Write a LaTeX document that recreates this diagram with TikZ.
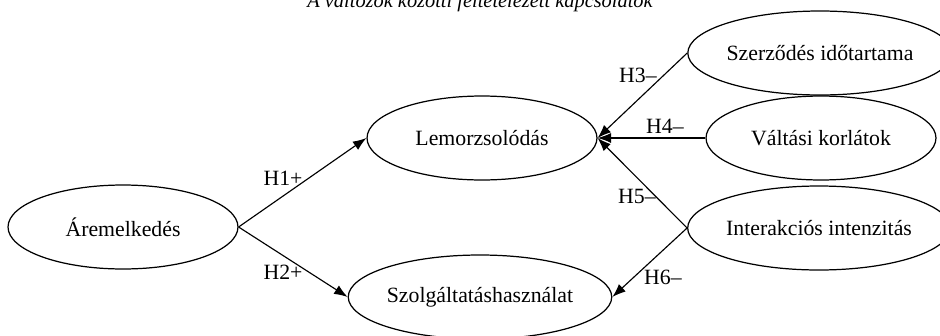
\documentclass[tikz,border=0pt]{standalone}
\usepackage{fontspec}
\setmainfont{Liberation Serif}
\usetikzlibrary{shapes.geometric,arrows.meta}

\tikzset{
  construct/.style={ellipse, draw, line width=0.7pt, minimum width=4.6cm,
    minimum height=1.68cm, inner sep=0pt, font=\fontsize{12.4}{14}\selectfont},
  hypo/.style={-{Latex[length=0.27cm,width=0.2cm]}, line width=0.65pt},
  hlabel/.style={font=\fontsize{12.4}{14}\selectfont, inner sep=0pt}
}

\begin{document}
\begin{tikzpicture}[x=0.02cm, y=-0.02cm]
  \useasboundingbox (0,0) rectangle (940,335);

  % Title (cut at the top)
  \node[anchor=base, inner sep=0pt, font=\itshape\fontsize{11.6}{14}\selectfont] (title) at (480,7)
    {A változók közötti feltételezett kapcsolatok};

  % Constructs
  \node[construct] (are) at (123,227) {Áremelkedés};
  \node[construct] (lem) at (482,138) {Lemorzsolódás};
  \node[construct] (szolg) at (480,297) {Szolgáltatáshasználat};
  \node[construct] (szerz) at (820,53) {Szerződés időtartama};
  \node[construct] (valt) at (821,138) {Váltási korlátok};
  \node[construct] (inter) at (819,228) {Interakciós intenzitás};

  % Hypotheses
  \draw[hypo] (are.east) -- (lem.west);
  \draw[hypo] (are.east) -- (szolg.west);
  \draw[hypo] (szerz.west) -- (lem.east);
  \draw[hypo] (valt.west) -- (lem.east);
  \draw[hypo] (inter.west) -- (lem.east);
  \draw[hypo] (inter.west) -- (szolg.east);

  % Labels
  \node[hlabel] (h1) at (283,178) {H1+};
  \node[hlabel] (h2) at (283,272) {H2+};
  \node[hlabel] (h3) at (638,75) {H3--};
  \node[hlabel] (h4) at (665,126) {H4--};
  \node[hlabel] (h5) at (637,196) {H5--};
  \node[hlabel] (h6) at (663,277) {H6--};

\end{tikzpicture}
\end{document}
